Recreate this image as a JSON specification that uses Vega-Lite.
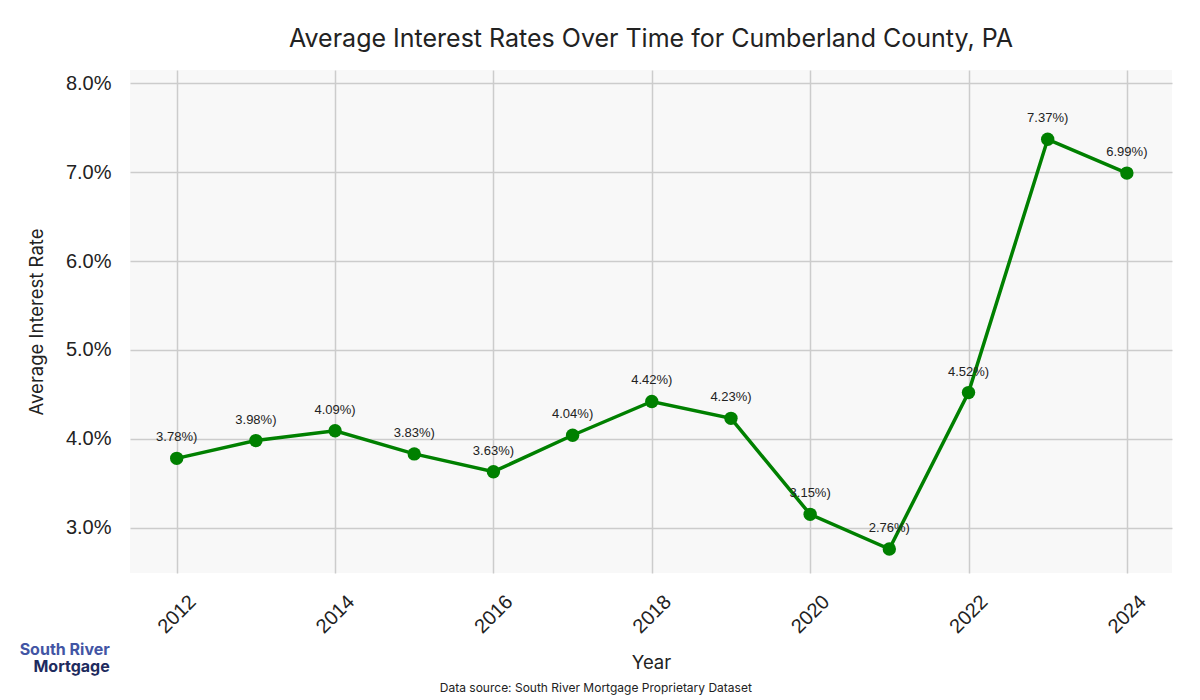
{
  "$schema": "https://vega.github.io/schema/vega-lite/v6.json",
  "background": "white",
  "padding": {"left": 19, "right": 22, "top": 27, "bottom": 2},
  "title": {"text": "Data source: South River Mortgage Proprietary Dataset", "orient": "bottom", "anchor": "middle", "font": "Inter", "fontSize": 12, "fontWeight": "normal", "color": "#222222", "offset": 8},
  "config": {"view": {"stroke": null}},
  "data": {"values": [
    {"year": 2012, "rate": 3.78, "label": "3.78%)"},
    {"year": 2013, "rate": 3.98, "label": "3.98%)"},
    {"year": 2014, "rate": 4.09, "label": "4.09%)"},
    {"year": 2015, "rate": 3.83, "label": "3.83%)"},
    {"year": 2016, "rate": 3.63, "label": "3.63%)"},
    {"year": 2017, "rate": 4.04, "label": "4.04%)"},
    {"year": 2018, "rate": 4.42, "label": "4.42%)"},
    {"year": 2019, "rate": 4.23, "label": "4.23%)"},
    {"year": 2020, "rate": 3.15, "label": "3.15%)"},
    {"year": 2021, "rate": 2.76, "label": "2.76%)"},
    {"year": 2022, "rate": 4.52, "label": "4.52%)"},
    {"year": 2023, "rate": 7.37, "label": "7.37%)"},
    {"year": 2024, "rate": 6.99, "label": "6.99%)"}
  ]},
  "vconcat": [
    {
      "width": 1042,
      "height": 503,
      "title": {"text": "Average Interest Rates Over Time for Cumberland County, PA", "anchor": "middle", "frame": "group", "font": "Inter", "fontSize": 25, "fontWeight": "normal", "color": "#222222", "offset": 18},
      "view": {"fill": "#f8f8f8", "stroke": null},
      "encoding": {
        "x": {"field": "year", "type": "quantitative", "title": "Year",
          "scale": {"domain": [2011.41, 2024.57], "nice": false, "zero": false},
          "axis": {"values": [2012, 2014, 2016, 2018, 2020, 2022, 2024], "format": "d", "labelAngle": -45,
            "labelAlign": "center", "labelBaseline": "middle",
            "labelFont": "Liberation Sans", "labelFontSize": 20, "labelColor": "#222222", "labelPadding": 41,
            "ticks": false, "domain": false, "grid": true, "gridColor": "#cccccc", "gridWidth": 1.5,
            "titleFont": "Inter", "titleFontSize": 18.5, "titleFontWeight": "normal", "titleColor": "#222222", "titlePadding": 17}},
        "y": {"field": "rate", "type": "quantitative", "title": "Average Interest Rate",
          "scale": {"domain": [2.49, 8.15], "nice": false, "zero": false},
          "axis": {"values": [3, 4, 5, 6, 7, 8], "labelExpr": "format(datum.value, '.1f') + '%'",
            "labelFont": "Liberation Sans", "labelFontSize": 20, "labelColor": "#222222", "labelPadding": 19,
            "ticks": false, "domain": false, "grid": true, "gridColor": "#cccccc", "gridWidth": 1.5,
            "titleFont": "Inter", "titleFontSize": 18.5, "titleFontWeight": "normal", "titleColor": "#222222", "titlePadding": 19}}
      },
      "layer": [
        {"mark": {"type": "line", "color": "#008000", "strokeWidth": 3.5}},
        {"mark": {"type": "point", "filled": true, "color": "#008000", "size": 180, "opacity": 1}},
        {"mark": {"type": "text", "font": "Liberation Sans", "fontSize": 13, "color": "#222222", "dy": -21}, "encoding": {"text": {"field": "label"}}},
        {"data": {"values": [{"year": 2011.154, "rate": 1.629, "logo": "South River"}]},
          "mark": {"type": "text", "font": "Inter", "fontSize": 16, "fontWeight": "bold", "color": "#4255a4", "align": "right", "baseline": "middle", "clip": false},
          "encoding": {"text": {"field": "logo"}, "x": {"field": "year", "type": "quantitative"}, "y": {"field": "rate", "type": "quantitative"}}},
        {"data": {"values": [{"year": 2011.154, "rate": 1.427, "logo": "Mortgage"}]},
          "mark": {"type": "text", "font": "Inter", "fontSize": 16, "fontWeight": "bold", "color": "#1e2b5e", "align": "right", "baseline": "middle", "clip": false},
          "encoding": {"text": {"field": "logo"}, "x": {"field": "year", "type": "quantitative"}, "y": {"field": "rate", "type": "quantitative"}}}
      ]
    }
  ]
}
